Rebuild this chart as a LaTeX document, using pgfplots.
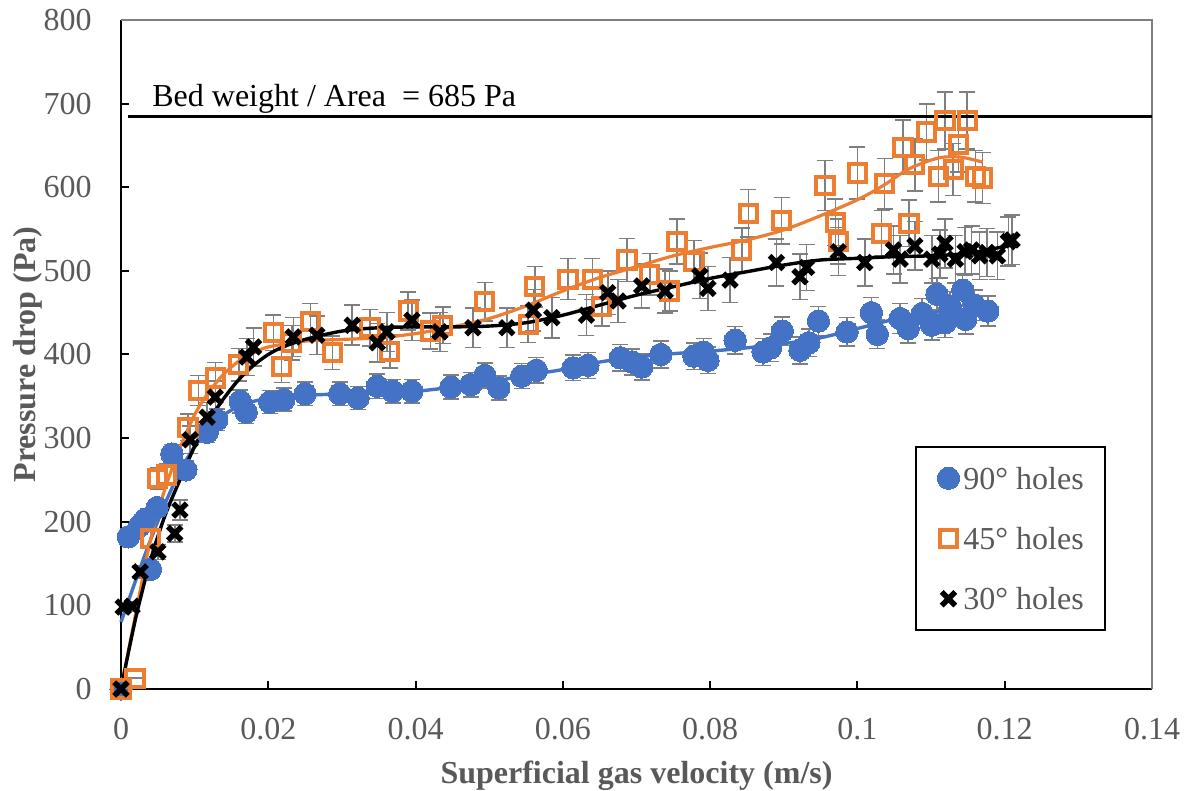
\documentclass[border=0pt]{standalone}
\usepackage{fontspec}
\setmainfont{Liberation Serif}
\usepackage{pgfplots}
\pgfplotsset{compat=1.18}
\definecolor{ser90}{HTML}{4472C4}
\definecolor{ser45}{HTML}{ED7D31}
\definecolor{txtgray}{HTML}{595959}
\definecolor{errgray}{HTML}{7F7F7F}
\definecolor{framegray}{HTML}{7F7F7F}
\newcommand{\chartfont}{\fontsize{16bp}{19bp}\selectfont}

\begin{document}
\begin{tikzpicture}
\useasboundingbox (0,0) rectangle (594.5bp,395.5bp);
\begin{axis}[
  at={(60.5bp,51bp)}, anchor=south west,
  scale only axis, width=515.5bp, height=334.5bp,
  xmin=0, xmax=0.14, ymin=0, ymax=800,
  axis lines=left, axis line style={-, black, line width=1.2bp},
  tick align=inside, major tick length=4bp, tick style={black, line width=1bp},
  xtick={0,0.02,0.04,0.06,0.08,0.1,0.12,0.14},
  xticklabels={0,0.02,0.04,0.06,0.08,0.1,0.12,0.14},
  ytick={0,100,200,300,400,500,600,700,800},
  yticklabels={0,100,200,300,400,500,600,700,800},
  /pgf/number format/assume math mode=true,
  tick label style={font=\chartfont, text=txtgray},
  xticklabel style={anchor=base, yshift=-25bp, inner sep=0pt},
  yticklabel style={anchor=east, xshift=-14.5bp, inner sep=0pt},
  xlabel={Superficial gas velocity (m/s)},
  ylabel={Pressure drop (Pa)},
  label style={font=\bfseries\chartfont, text=txtgray},
  xlabel style={at={(axis description cs:0.5,-0.142)}, anchor=base},
  ylabel style={at={(axis description cs:-0.0834,0.5)}, anchor=base},
  clip=false,
  legend cell align=left,
  legend style={at={(rel axis cs:0.8628,0.2250)}, anchor=center,
    draw=black, line width=1bp, fill=white, font=\chartfont, text=txtgray,
    inner xsep=10.5bp, inner ysep=10bp, row sep=19bp, column sep=0pt,
    nodes={inner sep=0pt, text depth=0pt}},
  err/.style={error bars/y dir=both, error bars/y fixed relative=#1,
    error bars/error bar style={errgray, line width=0.75bp},
    error bars/error mark options={rotate=90, errgray, mark size=4bp, line width=0.75bp}},
  m90/.style={only marks, mark=*, mark size=5.6bp, mark options={draw=ser90, fill=ser90, line width=0pt}},
  m45/.style={only marks, mark=square, mark size=4.3bp, mark options={draw=ser45, line width=2bp}},
  m30/.style={only marks, mark=x, mark size=4.8bp, mark options={draw=black, line width=2.7bp}},
  limg/.style={legend image code/.code={\path[draw=none, fill=none] (-5bp,-3bp) rectangle (7.5bp,3bp); \draw[##1] plot coordinates {(0bp,0bp)};}},
]
% plot area border (top and right)
\draw[framegray, line width=0.8bp] (rel axis cs:0,1) -- (rel axis cs:1,1) -- (rel axis cs:1,0);

% 90 degree holes
\addplot[forget plot, m90, err=0.04] table {
x y
0 0
0.0010 182
0.0025 195
0.0033 203
0.0040 143
0.0049 217
0.0069 281
0.0088 262
0.0117 307
0.0130 322
0.0162 344
0.0170 331
0.0202 343
0.0221 346
0.0250 353
0.0297 353
0.0322 348
0.0348 362
0.0369 356
0.0395 356
0.0448 361
0.0475 364
0.0494 375
0.0513 360
0.0544 374
0.0564 381
0.0614 384
0.0634 387
0.0678 396
0.0694 391
0.0707 385
0.0733 400
0.0778 398
0.0791 403
0.0797 393
0.0834 417
0.0872 403
0.0882 408
0.0898 428
0.0922 405
0.0934 414
0.0947 440
0.0986 427
0.1019 450
0.1027 424
0.1058 443
0.1069 431
0.1088 449
0.1101 435
0.1108 472
0.1119 438
0.1126 457
0.1143 477
0.1147 442
0.1159 459
0.1177 452
};

% 45 degree holes
\addplot[forget plot, m45, err=0.05] table {
x y
0 0
0.0019 13
0.0040 180
0.0050 252
0.0062 256
0.0091 313
0.0105 357
0.0128 372
0.0160 388
0.0207 426
0.0218 386
0.0232 414
0.0257 439
0.0287 402
0.0338 432
0.0365 404
0.0390 452
0.0420 428
0.0437 435
0.0494 463
0.0553 436
0.0562 481
0.0607 490
0.0640 490
0.0653 457
0.0687 513
0.0718 496
0.0745 476
0.0755 535
0.0778 511
0.0843 525
0.0852 569
0.0897 560
0.0956 602
0.0970 558
0.0974 535
0.1000 617
0.1033 545
0.1037 604
0.1062 648
0.1070 557
0.1078 627
0.1094 666
0.1110 613
0.1119 680
0.1130 621
0.1137 651
0.1149 680
0.1160 613
0.1170 611
};

% 30 degree holes
\addplot[forget plot, m30, err=0.055] table {
x y
0 0
0.0003 98
0.0015 99
0.0026 140
0.0050 164
0.0073 186
0.0080 214
0.0094 298
0.0117 325
0.0128 349
0.0171 397
0.0180 409
0.0234 421
0.0266 423
0.0314 435
0.0348 414
0.0361 427
0.0395 441
0.0433 427
0.0478 432
0.0524 432
0.0560 453
0.0585 444
0.0632 447
0.0661 474
0.0675 464
0.0707 482
0.0739 476
0.0786 494
0.0797 479
0.0827 489
0.0890 510
0.0922 493
0.0931 504
0.0974 523
0.1010 510
0.1049 525
0.1058 514
0.1078 530
0.1101 514
0.1112 520
0.1119 533
0.1133 514
0.1146 523
0.1155 525
0.1166 518
0.1176 522
0.1190 518
0.1205 535
0.1210 537
};

% fitted trend curves
\addplot[ser90, line width=1.7bp, smooth, forget plot] coordinates {
(0,80) (0.002,130) (0.004,178) (0.006,222) (0.008,260) (0.010,290) (0.012,312)
(0.014,328) (0.016,338) (0.018,344) (0.020,347) (0.025,351) (0.030,353)
(0.035,354) (0.040,356) (0.045,361) (0.050,367) (0.055,375) (0.060,382)
(0.065,391) (0.070,397) (0.075,401) (0.080,404) (0.085,408) (0.090,413)
(0.095,420) (0.100,431) (0.105,442) (0.110,450) (0.115,453) (0.118,454)};
\addplot[ser45, line width=1.6bp, smooth, forget plot] coordinates {
(0,0) (0.002,90) (0.004,178) (0.006,240) (0.008,288) (0.010,328) (0.012,356)
(0.014,377) (0.016,392) (0.018,402) (0.020,409) (0.025,416) (0.030,418)
(0.035,420) (0.040,425) (0.045,433) (0.050,443) (0.055,458) (0.060,476)
(0.065,492) (0.070,505) (0.075,518) (0.080,528) (0.085,537) (0.090,549)
(0.095,566) (0.100,585) (0.1035,602) (0.107,622) (0.111,635) (0.114,636) (0.117,630)};
\addplot[black, line width=1.7bp, smooth, forget plot] coordinates {
(0,0) (0.002,85) (0.004,154) (0.006,208) (0.008,250) (0.010,290) (0.012,322)
(0.014,348) (0.016,370) (0.018,387) (0.020,400) (0.022,409) (0.025,418)
(0.030,428) (0.035,432) (0.040,433) (0.045,433) (0.050,434) (0.055,438)
(0.060,447) (0.065,459) (0.070,471) (0.075,481) (0.080,491) (0.085,499)
(0.090,507) (0.095,513) (0.100,515) (0.105,517) (0.110,518) (0.115,521) (0.121,531)};

% bed weight per unit area
\addplot[black, line width=1.6bp, forget plot] coordinates {(0.0009,685) (0.14,685)};
\node[anchor=base west, inner sep=0pt, font=\chartfont, text=black]
  at (axis cs:0.00421,696.6) {Bed weight / Area\ \ = 685 Pa};

\addlegendimage{m90, limg}
\addlegendentry{90° holes}
\addlegendimage{m45, limg}
\addlegendentry{45° holes}
\addlegendimage{m30, limg}
\addlegendentry{30° holes}
\end{axis}
\end{tikzpicture}
\end{document}
